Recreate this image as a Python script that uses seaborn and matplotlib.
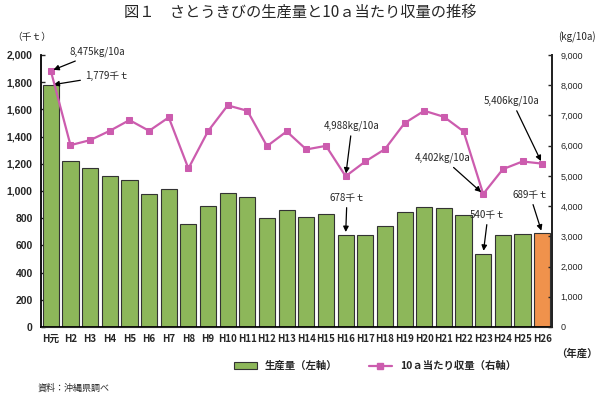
import numpy as np
import pandas as pd
import matplotlib
matplotlib.use("Agg")
import matplotlib.pyplot as plt
import seaborn as sns
from matplotlib.patches import Patch
from matplotlib.lines import Line2D

sns.set_style("white")
plt.rcParams['font.family'] = ['Noto Sans CJK JP', 'DejaVu Sans']

years = ["H元", "H2", "H3", "H4", "H5", "H6", "H7", "H8", "H9", "H10", "H11", "H12", "H13",
         "H14", "H15", "H16", "H17", "H18", "H19", "H20", "H21", "H22", "H23", "H24", "H25", "H26"]
production = [1779, 1218, 1167, 1113, 1084, 979, 1013, 757, 891, 986, 957, 805, 859,
              808, 832, 678, 678, 742, 849, 881, 878, 820, 540, 676, 681, 689]
yield_10a = [8475, 6017, 6183, 6491, 6846, 6491, 6935, 5245, 6481, 7333, 7154, 5984, 6471,
             5875, 5994, 4988, 5477, 5885, 6746, 7154, 6955, 6471, 4402, 5222, 5477, 5406]
left_ticks = [0, 200, 400, 600, 800, 1000, 1200, 1400, 1600, 1800, 2000]
right_ticks = [0, 1000, 2000, 3000, 4000, 5000, 6000, 7000, 8000, 9000]

green = "#8DB75A"
orange = "#F0924C"
pink = "#CC5CAE"

df = pd.DataFrame({"year": years, "prod": production, "yield": yield_10a})
colors = [green] * (len(years) - 1) + [orange]

fig = plt.figure(figsize=(6.0, 3.97), dpi=100)
ax = fig.add_axes([41/600, 1 - 327/397, (552-41)/600, (327-55)/397])

sns.barplot(data=df, x="year", y="prod", hue="year", palette=colors, legend=False,
            saturation=1, width=0.82, edgecolor="#333333", linewidth=0.8, ax=ax, zorder=2)
ax.set_ylim(0, 2000)
ax.set_xlim(-0.5, len(years) - 0.5)
ax.set_yticks(left_ticks)
ax.set_yticklabels([f"{v:,}" for v in left_ticks], fontsize=7.5,
                   family=['Liberation Sans Narrow', 'Liberation Sans', 'DejaVu Sans'], fontweight='bold')
ax.set_xticks(range(len(years)))
ax.set_xticklabels(years, fontsize=7, fontweight='bold')
ax.set_xlabel("")
ax.set_ylabel("")
ax.spines["top"].set_visible(False)
for s in ["left", "bottom", "right"]:
    ax.spines[s].set_color("black")
    ax.spines[s].set_linewidth(1.3)
ax.tick_params(axis="y", direction="in", length=3, width=1, left=True, pad=6)
ax.tick_params(axis="x", length=0, pad=5)

ax2 = ax.twinx()
sns.lineplot(x=np.arange(len(years)), y=yield_10a, color=pink, marker="s", markersize=5,
             markeredgecolor=pink, linewidth=1.6, ax=ax2, zorder=3)
ax2.set_ylim(0, 9000)
ax2.set_yticks(right_ticks)
ax2.set_yticklabels([f"{v:,}" for v in right_ticks], fontsize=6.5,
                    family=['Liberation Sans', 'DejaVu Sans'])
ax2.spines["top"].set_visible(False)
ax2.spines["right"].set_linewidth(1.3)
ax2.spines["left"].set_visible(False)
ax2.tick_params(axis="y", direction="in", length=3, width=1, right=True, pad=6)
ax2.set_ylabel("")

arrow = dict(arrowstyle="-|>", color="black", lw=0.9, mutation_scale=8, shrinkA=1, shrinkB=2)
fs = 7

def ann2(text, idx, xt, yt, ha="left"):
    ax2.annotate(text, xy=(idx, yield_10a[idx]), xycoords="data",
                 xytext=(xt, yt), textcoords="figure pixels", fontsize=fs, ha=ha, va="center",
                 arrowprops=arrow)

def ann1(text, idx, xt, yt, ha="center"):
    ax.annotate(text, xy=(idx, production[idx]), xycoords="data",
                xytext=(xt, yt), textcoords="figure pixels", fontsize=fs, ha=ha, va="center",
                arrowprops=arrow)

H = 397
ann2(f"{yield_10a[0]:,}kg/10a", 0, 70, H - 52)
ann1(f"{production[0]:,}千ｔ", 0, 85, H - 76, ha="left")
ann2(f"{yield_10a[15]:,}kg/10a", 15, 352, H - 126, ha="center")
ann1(f"{production[15]}千ｔ", 15, 347, H - 198)
ann2(f"{yield_10a[22]:,}kg/10a", 22, 443, H - 158, ha="center")
ann1(f"{production[22]}千ｔ", 22, 488, H - 215)
ann2(f"{yield_10a[25]:,}kg/10a", 25, 512, H - 101, ha="center")
ann1(f"{production[25]}千ｔ", 25, 530, H - 195)

fig.text(0.5, 1 - 12/397, "図１　さとうきびの生産量と10ａ当たり収量の推移", ha="center", va="center",
         fontsize=11)
fig.text(12/600, 1 - 37/397, "（千ｔ）", ha="left", va="center", fontsize=7)
fig.text(577/600, 1 - 37/397, "(kg/10a)", ha="center", va="center", fontsize=7)
fig.text(577/600, 1 - 354/397, "（年産）", ha="center", va="center", fontsize=7.5, fontweight="bold")
fig.text(38/600, 1 - 388/397, "資料：沖縄県調べ", ha="left", va="center", fontsize=6.5)

handles = [Patch(facecolor=green, edgecolor="#333333", linewidth=0.8),
           Line2D([0], [0], color=pink, marker="s", markersize=4, lw=1.6)]
fig.legend(handles, ["生産量（左軸）", "10ａ当たり収量（右軸）"], loc="center",
           bbox_to_anchor=(375/600, 1 - 366/397), ncol=2, frameon=False, numpoints=1,
           handlelength=2.2, handleheight=0.6, columnspacing=3, prop={'weight': 'bold', 'size': 7.5})

fig.savefig("out.png", dpi=100)
